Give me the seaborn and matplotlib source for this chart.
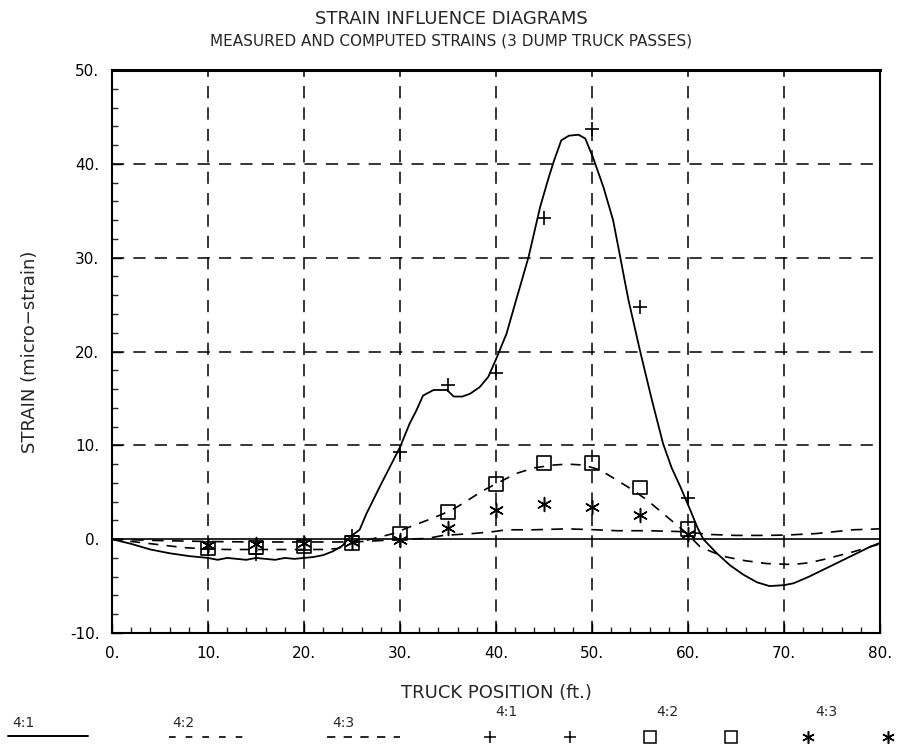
import numpy as np
import pandas as pd
import matplotlib
matplotlib.use("Agg")
import matplotlib.pyplot as plt
from matplotlib.ticker import MultipleLocator, FuncFormatter
from matplotlib.lines import Line2D
import seaborn as sns

# ---------------- data ----------------
# computed 4:1 (solid)
c41_x = [0, 2, 4, 6, 8, 10, 11, 12, 13, 14, 15, 16, 17, 18, 19, 20, 21, 22, 23, 24,
         24.8, 25.8, 26.5, 27.9, 29, 30, 31, 31.7, 32.4, 33.5, 34.9, 35.6, 36.5, 37.3,
         38.3, 39.2, 40.1, 41.1, 42.1, 42.7, 43.4, 44.6, 45.45, 46, 46.8, 47.6, 48.6,
         49.3, 50.1, 51.2, 52.2, 52.9, 53.4, 53.8, 55, 56.2, 57.4, 58.3, 59.2, 60.2,
         61.0, 61.6, 63, 64.4, 65.8, 67.2, 68.5, 70, 71, 72.6, 74.4, 76.2, 77.9, 79, 80]
c41_y = [0, -0.5, -1.1, -1.5, -1.8, -2.0, -2.2, -2.0, -2.1, -2.2, -2.0, -2.1, -2.2, -2.0,
         -2.1, -2.0, -1.9, -1.7, -1.3, -0.7, 0.25, 1.0, 2.7, 5.6, 7.8, 9.8, 12.3, 13.7,
         15.3, 15.9, 15.9, 15.2, 15.2, 15.5, 16.2, 17.3, 19.4, 21.9, 25.5, 27.6, 30.1,
         35.4, 38.4, 40.2, 42.5, 43.0, 43.1, 42.7, 40.7, 37.5, 34.0, 30.3, 27.6, 25.5,
         20.1, 15.0, 10.2, 7.6, 5.6, 3.2, 1.2, 0.0, -1.5, -2.8, -3.8, -4.6, -5.0, -4.9,
         -4.7, -4.0, -3.1, -2.2, -1.35, -0.8, -0.4]

# computed 4:2 (dashed)
c42_x = [0, 2.5, 5, 7.5, 10, 12, 14, 16, 18, 20, 22, 23.5, 24.8, 27, 29.3, 31, 32.8, 34.5,
         35.9, 37.3, 38.7, 40.4, 42.1, 44, 46, 47.5, 49.1, 50.8, 52.9, 54.3, 55.7, 57.8,
         59.9, 61.25, 62.6, 64, 66, 68.2, 71, 72.7, 74.4, 77.2, 80]
c42_y = [0, -0.3, -0.6, -0.9, -1.05, -1.1, -1.1, -1.1, -1.1, -1.1, -1.1, -1.0, -0.5, 0.0,
         0.6, 1.3, 2.0, 2.7, 3.4, 4.3, 5.2, 6.1, 7.0, 7.6, 7.9, 8.0, 7.9, 7.4, 6.1, 5.2,
         4.2, 2.4, 0.6, -0.8, -1.4, -1.9, -2.3, -2.6, -2.7, -2.5, -2.1, -1.35, -0.5]

# computed 4:3 (dashed)
c43_x = [0, 5, 10, 15, 20, 25, 28, 30, 32.8, 34.5, 37.6, 39.7, 41.1, 43.9, 47.4, 50.4,
         52.6, 56, 59.5, 62.3, 65, 68.2, 70.5, 73.4, 77.2, 80]
c43_y = [0, -0.15, -0.25, -0.3, -0.3, -0.3, -0.15, 0.0, 0.07, 0.4, 0.6, 0.8, 1.0, 1.0,
         1.1, 1.0, 0.9, 0.9, 0.8, 0.5, 0.4, 0.4, 0.45, 0.6, 1.0, 1.1]

# measured
m_x = [10, 15, 20, 25, 30, 35, 40, 45, 50, 55, 60]
m41_y = [-1.0, -1.6, -1.2, 0.3, 9.3, 16.4, 17.7, 34.2, 43.7, 24.7, 4.4]
m42_y = [-1.0, -0.9, -0.8, -0.4, 0.6, 2.9, 5.9, 8.1, 8.1, 5.5, 1.1]
m43_y = [-0.6, -0.5, -0.4, -0.3, -0.1, 1.2, 3.1, 3.7, 3.4, 2.6, 0.6]

x_ticks = [0, 10, 20, 30, 40, 50, 60, 70, 80]
y_ticks = [-10, 0, 10, 20, 30, 40, 50]

series_labels = ["4:1", "4:2", "4:3"]

title1 = "STRAIN INFLUENCE DIAGRAMS"
title2 = "MEASURED AND COMPUTED STRAINS (3 DUMP TRUCK PASSES)"
xlabel = "TRUCK POSITION (ft.)"
ylabel = "STRAIN (micro\u2212strain)"

# ---------------- style ----------------
sns.set_style("ticks")
plt.rcParams["font.family"] = ["DejaVu Sans"]

fig = plt.figure(figsize=(9.03, 7.47), dpi=100)
ax = fig.add_axes([0.124, 0.1526, 0.8505, 0.7537])

# grid (dashed)
for gx in x_ticks[1:-1]:
    ax.axvline(gx, color="black", lw=1.1, ls=(0, (8, 6)), zorder=1)
for gy in y_ticks[2:-1]:
    ax.axhline(gy, color="black", lw=1.1, ls=(0, (8, 6)), zorder=1)
ax.axhline(0, color="black", lw=1.2, zorder=2)

# computed curves
sns.lineplot(x=c41_x, y=c41_y, ax=ax, color="black", lw=1.3, sort=False, zorder=3)
sns.lineplot(x=c42_x, y=c42_y, ax=ax, color="black", lw=1.2, sort=False,
             linestyle=(0, (6, 5)), zorder=3)
sns.lineplot(x=c43_x, y=c43_y, ax=ax, color="black", lw=1.2, sort=False,
             linestyle=(0, (7, 5)), zorder=3)

# measured points
df = pd.DataFrame({"x": m_x, "m41": m41_y, "m42": m42_y, "m43": m43_y})
sns.scatterplot(data=df, x="x", y="m41", ax=ax, marker="+", s=100, color="black",
                linewidth=1.2, zorder=4)
sns.scatterplot(data=df, x="x", y="m42", ax=ax, marker="s", s=95, facecolor="none",
                edgecolor="black", linewidth=1.2, zorder=4)
sns.scatterplot(data=df, x="x", y="m43", ax=ax, marker=(6, 2, 0), s=100, color="black",
                edgecolor="black", linewidth=1.1, zorder=4)

ax.set_xlim(0, 80)
ax.set_ylim(-10, 50)
ax.set_xticks(x_ticks)
ax.set_yticks(y_ticks)
ax.xaxis.set_minor_locator(MultipleLocator(2))
ax.yaxis.set_minor_locator(MultipleLocator(2))
fmt = FuncFormatter(lambda v, p: f"{v:.0f}.")
ax.xaxis.set_major_formatter(fmt)
ax.yaxis.set_major_formatter(fmt)
ax.tick_params(which="major", direction="in", length=7, width=1, labelsize=11, pad=9,
               colors="black")
ax.tick_params(which="minor", direction="in", length=4, width=1)
for side in ["left", "right", "bottom"]:
    ax.spines[side].set_linewidth(1.5)
    ax.spines[side].set_color("black")
ax.spines["top"].set_linewidth(2.2)
ax.spines["top"].set_color("black")

ax.set_xlabel(xlabel, fontsize=13, labelpad=17)
ax.set_ylabel(ylabel, fontsize=13, labelpad=22)

fig.text(0.5, 0.975, title1, ha="center", va="center", fontsize=13)
fig.text(0.5, 0.945, title2, ha="center", va="center", fontsize=11)

# ---------------- legend (bottom row) ----------------
lax = fig.add_axes([0, 0, 1, 77 / 747])
lax.set_xlim(0, 903)
lax.set_ylim(747, 670)
lax.axis("off")
# computed (lines)
lax.text(12, 727, series_labels[0], fontsize=10, ha="left", va="baseline")
lax.add_line(Line2D([8, 88], [736, 736], color="black", lw=1.4))
lax.text(172, 727, series_labels[1], fontsize=10, ha="left", va="baseline")
lax.add_line(Line2D([169, 243], [737, 737], color="black", lw=1.2, ls=(0, (4, 6))))
lax.text(332, 727, series_labels[2], fontsize=10, ha="left", va="baseline")
lax.add_line(Line2D([327, 400], [737, 737], color="black", lw=1.2, ls=(0, (5, 5))))
# measured (markers)
lax.plot([490, 570], [737, 737], ls="none", marker="+", ms=9, mew=1.1, color="black")
lax.text(495, 716, series_labels[0], fontsize=10, ha="left", va="baseline")
lax.plot([650, 731], [737, 737], ls="none", marker="s", ms=8, mew=1.1, mfc="none",
         mec="black")
lax.text(656, 716, series_labels[1], fontsize=10, ha="left", va="baseline")
lax.plot([808, 888], [737, 737], ls="none", marker=(6, 2, 0), ms=9, mew=1.1,
         color="black")
lax.text(815, 716, series_labels[2], fontsize=10, ha="left", va="baseline")

fig.savefig("out.png", dpi=100)
